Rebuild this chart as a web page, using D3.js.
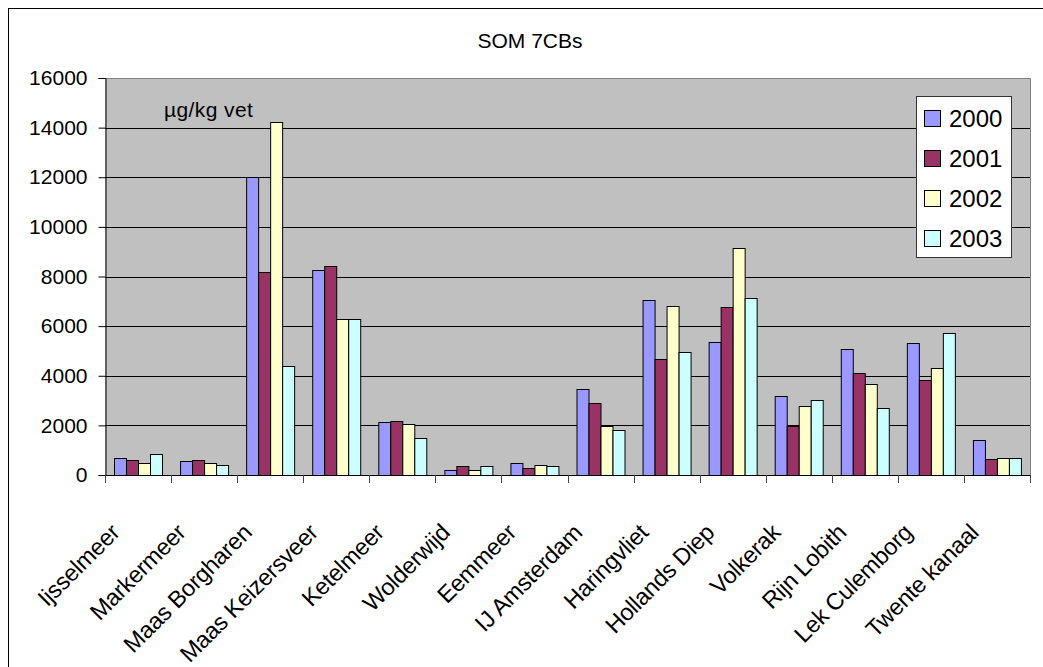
<!DOCTYPE html>
<html>
<head>
<meta charset="utf-8">
<script src="https://cdn.jsdelivr.net/npm/d3@7/dist/d3.min.js"></script>
<style>
  html, body { margin: 0; padding: 0; background: #fff; }
  svg { display: block; font-family: "Liberation Sans", Arial, sans-serif; }
</style>
</head>
<body>
<svg id="chart" width="1043" height="667"></svg>
<script>
// Sampling locations
const categories = [
  "Ijsselmeer", "Markermeer", "Maas Borgharen", "Maas Keizersveer",
  "Ketelmeer", "Wolderwijd", "Eemmeer", "IJ Amsterdam", "Haringvliet",
  "Hollands Diep", "Volkerak", "Rijn Lobith", "Lek Culemborg", "Twente kanaal"
];

// Years shown as series
const years = ["2000", "2001", "2002", "2003"];

// Sum of 7 PCBs (µg/kg fat) per location, one array per year
const values2000 = [700, 550, 12000, 8280, 2120, 200, 490, 3470, 7070, 5380, 3170, 5090, 5300, 1410];
const values2001 = [620, 620, 8200, 8420, 2190, 350, 280, 2900, 4680, 6790, 1960, 4110, 3820, 650];
const values2002 = [490, 480, 14230, 6290, 2040, 190, 420, 1960, 6800, 9130, 2770, 3680, 4320, 700];
const values2003 = [830, 420, 4390, 6290, 1480, 350, 350, 1830, 4950, 7150, 3040, 2690, 5730, 700];

const seriesValues = [values2000, values2001, values2002, values2003];
const seriesColors = ["#9999ff", "#993366", "#ffffcc", "#ccffff"];

// Y axis ticks
const yTicks = [0, 2000, 4000, 6000, 8000, 10000, 12000, 14000, 16000];

const svg = d3.select("#chart");

// Outer chart frame
svg.append("rect")
  .attr("x", 8.5).attr("y", 8.5)
  .attr("width", 1043).attr("height", 700)
  .attr("fill", "#fff").attr("stroke", "#000").attr("stroke-width", 1);

const plot = { left: 105, right: 1030, top: 78, bottom: 475 };

const x0 = d3.scaleBand()
  .domain(categories)
  .range([plot.left, plot.right])
  .paddingInner(0).paddingOuter(0);

const x1 = d3.scaleBand()
  .domain(years)
  .range([0, x0.bandwidth()])
  .paddingInner(0)
  .paddingOuter(0.7);

const y = d3.scaleLinear()
  .domain([0, 16000])
  .range([plot.bottom, plot.top]);

// Plot background
svg.append("rect")
  .attr("x", plot.left).attr("y", plot.top)
  .attr("width", plot.right - plot.left).attr("height", plot.bottom - plot.top)
  .attr("fill", "#c0c0c0");

// Horizontal gridlines
svg.append("g")
  .selectAll("line")
  .data(yTicks.filter(t => t > 0 && t < 16000))
  .join("line")
  .attr("x1", plot.left).attr("x2", plot.right)
  .attr("y1", d => Math.round(y(d)) + 0.5)
  .attr("y2", d => Math.round(y(d)) + 0.5)
  .attr("stroke", "#000").attr("stroke-width", 1);

// Plot frame (top and right)
svg.append("path")
  .attr("d", `M${plot.left},${plot.top + 0.5}H${plot.right + 0.5}V${plot.bottom}`)
  .attr("fill", "none").attr("stroke", "#808080").attr("stroke-width", 1);

// Bars
const rows = categories.map((c, i) => ({
  cat: c,
  vals: years.map((yr, s) => ({ year: yr, s, v: seriesValues[s][i] }))
}));

svg.append("g")
  .selectAll("g")
  .data(rows)
  .join("g")
  .attr("transform", d => `translate(${x0(d.cat)},0)`)
  .selectAll("rect")
  .data(d => d.vals)
  .join("rect")
  .attr("x", d => Math.round(x1(d.year)) + 0.5)
  .attr("y", d => Math.round(y(d.v)) + 0.5)
  .attr("width", Math.round(x1.bandwidth()))
  .attr("height", d => Math.round(y(0)) - Math.round(y(d.v)))
  .attr("fill", d => seriesColors[d.s])
  .attr("stroke", "#000").attr("stroke-width", 1);

// Y axis
const yAxis = d3.axisLeft(y)
  .tickValues(yTicks)
  .tickSize(7)
  .tickPadding(11)
  .tickFormat(d3.format("d"));

const gy = svg.append("g")
  .attr("transform", `translate(${plot.left + 0.5},0)`)
  .call(yAxis);
gy.select(".domain").attr("stroke", "#000");
gy.selectAll(".tick line").attr("stroke", "#000");
gy.selectAll(".tick text")
  .attr("font-size", 21)
  .attr("font-family", "'Liberation Sans', Arial, sans-serif")
  .attr("fill", "#000");

// X axis: ticks between categories
const boundaries = categories.map(c => x0(c)).concat([plot.right]);
svg.append("line")
  .attr("x1", plot.left).attr("x2", plot.right + 1)
  .attr("y1", plot.bottom + 0.5).attr("y2", plot.bottom + 0.5)
  .attr("stroke", "#000");
svg.append("g")
  .selectAll("line")
  .data(boundaries)
  .join("line")
  .attr("x1", d => Math.round(d) + 0.5).attr("x2", d => Math.round(d) + 0.5)
  .attr("y1", plot.bottom).attr("y2", plot.bottom + 8)
  .attr("stroke", "#444");

// Category labels, rotated
svg.append("g")
  .selectAll("text")
  .data(categories)
  .join("text")
  .attr("transform", d => `translate(${x0(d) + x0.bandwidth() / 2 - 17},534) rotate(-45)`)
  .attr("text-anchor", "end")
  .attr("font-size", 23.5)
  .attr("letter-spacing", -0.3)
  .attr("fill", "#000")
  .text(d => d);

// Title
svg.append("text")
  .attr("x", 530).attr("y", 48)
  .attr("text-anchor", "middle")
  .attr("font-size", 21)
  .attr("fill", "#000")
  .text("SOM 7CBs");

// Unit label inside plot
svg.append("text")
  .attr("x", 164).attr("y", 117)
  .attr("font-size", 21)
  .attr("letter-spacing", 0.4)
  .attr("fill", "#000")
  .text("µg/kg vet");

// Legend
const legend = svg.append("g").attr("transform", "translate(916,96)");
legend.append("rect")
  .attr("x", 0.5).attr("y", 0.5)
  .attr("width", 95).attr("height", 161)
  .attr("fill", "#fff").attr("stroke", "#333");
const items = legend.selectAll("g.item")
  .data(years)
  .join("g")
  .attr("class", "item")
  .attr("transform", (d, i) => `translate(0,${22 + i * 40})`);
items.append("rect")
  .attr("x", 8.5).attr("y", -7.5)
  .attr("width", 16).attr("height", 16)
  .attr("fill", (d, i) => seriesColors[i])
  .attr("stroke", "#000");
items.append("text")
  .attr("x", 33).attr("y", 9)
  .attr("font-size", 24)
  .attr("fill", "#000")
  .text(d => d);
</script>
</body>
</html>
